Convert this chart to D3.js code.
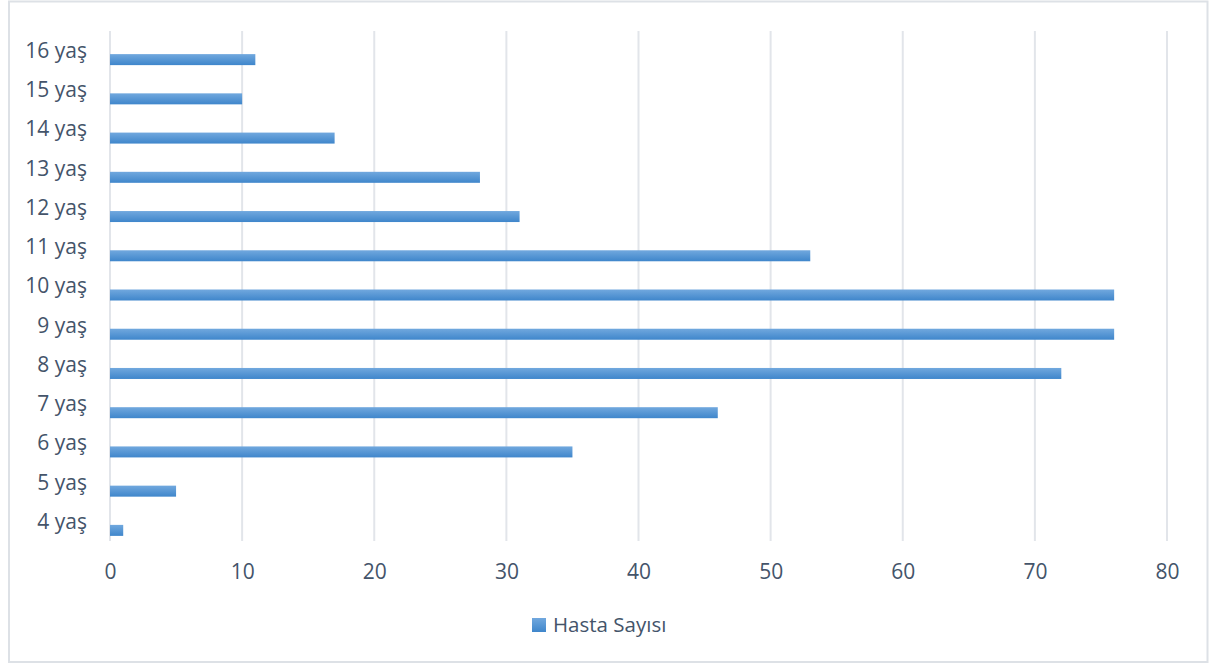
<!DOCTYPE html>
<html>
<head>
<meta charset="utf-8">
<script src="https://cdn.jsdelivr.net/npm/d3@7/dist/d3.min.js"></script>
<style>
  html, body { margin: 0; padding: 0; background: #fff; }
  svg { display: block; }
  text { font-family: "Open Sans", "Noto Sans", sans-serif; fill: #44546a; }
</style>
</head>
<body>
<svg id="chart" width="1210" height="664"></svg>
<script>
// Patients per age group
const categories = ["4 yaş", "5 yaş", "6 yaş", "7 yaş", "8 yaş", "9 yaş", "10 yaş",
                    "11 yaş", "12 yaş", "13 yaş", "14 yaş", "15 yaş", "16 yaş"];
const hastaSayisi = [1, 5, 35, 46, 72, 76, 76, 53, 31, 28, 17, 10, 11];
const xTicks = [0, 10, 20, 30, 40, 50, 60, 70, 80];
const seriesName = "Hasta Sayısı";

const svg = d3.select("#chart");

// outer chart frame
svg.append("rect")
  .attr("x", 9).attr("y", 1.5)
  .attr("width", 1198.5).attr("height", 660.5)
  .attr("fill", "#fff")
  .attr("stroke", "#dde1e6")
  .attr("stroke-width", 2);

const plot = { left: 110, right: 1167, top: 31, bottom: 541 };

const x = d3.scaleLinear().domain([0, 80]).range([plot.left, plot.right]);
const y = d3.scaleBand()
  .domain(categories.slice().reverse())
  .range([plot.top, plot.bottom])
  .paddingInner(0).paddingOuter(0);

const defs = svg.append("defs");
const grad = defs.append("linearGradient")
  .attr("id", "barGrad").attr("x1", 0).attr("y1", 0).attr("x2", 0).attr("y2", 1);
grad.append("stop").attr("offset", "0%").attr("stop-color", "#71a8de");
grad.append("stop").attr("offset", "100%").attr("stop-color", "#3f86cb");

// vertical gridlines
svg.append("g")
  .selectAll("line")
  .data(xTicks)
  .join("line")
  .attr("x1", d => x(d)).attr("x2", d => x(d))
  .attr("y1", plot.top).attr("y2", plot.bottom)
  .attr("stroke", "#e2e5ea")
  .attr("stroke-width", 2);

// x axis tick labels
const xAxis = d3.axisBottom(x).tickValues(xTicks).tickSize(0).tickPadding(0);
const gx = svg.append("g")
  .attr("transform", `translate(0, ${plot.bottom})`)
  .call(xAxis);
gx.select(".domain").remove();
gx.selectAll("text")
  .attr("y", 31)
  .attr("dy", "0.35em")
  .style("font-size", "21px")
  .style("font-family", "'Open Sans', sans-serif")
  .attr("fill", "#44546a");

// y axis category labels
const yAxis = d3.axisLeft(y).tickSize(0).tickPadding(0);
const gy = svg.append("g")
  .attr("transform", `translate(${plot.left}, 0)`)
  .call(yAxis);
gy.select(".domain").remove();
gy.selectAll("text")
  .attr("x", -23)
  .attr("dy", "0.35em")
  .style("font-size", "21px")
  .style("font-family", "'Open Sans', sans-serif")
  .attr("fill", "#44546a");

// bars, sitting slightly below each band centre
const barH = 11;
const barOffset = 9;
svg.append("g")
  .selectAll("rect")
  .data(categories.map((c, i) => ({ c, v: hastaSayisi[i] })))
  .join("rect")
  .attr("x", x(0))
  .attr("y", d => y(d.c) + y.bandwidth() / 2 + barOffset - barH / 2)
  .attr("width", d => x(d.v) - x(0))
  .attr("height", barH)
  .attr("fill", "url(#barGrad)");

// legend
const lg = svg.append("g").attr("transform", "translate(532, 618)");
lg.append("rect")
  .attr("width", 14).attr("height", 14)
  .attr("fill", "url(#barGrad)");
lg.append("text")
  .attr("x", 21).attr("y", 7)
  .attr("dy", "0.35em")
  .style("font-size", "20.5px")
  .text(seriesName);
</script>
</body>
</html>
